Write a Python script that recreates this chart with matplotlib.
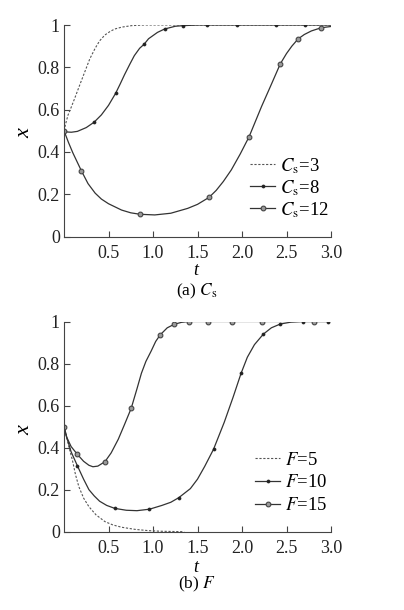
import matplotlib
matplotlib.use("Agg")
import matplotlib.pyplot as plt

# ---------------- data ----------------
# Panel (a): effect of C_s
cs3_t = [0, 0.02, 0.045, 0.08, 0.12, 0.18, 0.235, 0.29, 0.35, 0.40, 0.46, 0.52, 0.57, 0.65, 0.76, 0.9, 1.0, 3.0]
cs3_x = [0.5, 0.535, 0.574, 0.61, 0.653, 0.72, 0.78, 0.84, 0.89, 0.925, 0.953, 0.97, 0.981, 0.99, 0.997, 1.0, 1.0, 1.0]

cs8_t = [0, 0.04, 0.083, 0.15, 0.25, 0.337, 0.42, 0.5, 0.58, 0.63, 0.68, 0.74, 0.79, 0.85, 0.9, 0.95,
         1.05, 1.13, 1.25, 1.34, 1.5, 3.0]
cs8_x = [0.5, 0.494, 0.493, 0.497, 0.515, 0.540, 0.575, 0.62, 0.677, 0.72, 0.765, 0.815, 0.855, 0.89, 0.909,
         0.935, 0.965, 0.981, 0.994, 0.997, 1.0, 1.0]
cs8_mt = [0, 0.337, 0.58, 0.9, 1.13, 1.34, 1.61, 1.94, 2.38, 2.71]
cs8_mx = [0.5, 0.540, 0.677, 0.909, 0.981, 0.997, 1.0, 1.0, 1.0, 1.0]

cs12_t = [0, 0.05, 0.1, 0.196, 0.27, 0.35, 0.42, 0.5, 0.647, 0.75, 0.855, 1.02, 1.2, 1.39, 1.5, 1.63,
          1.71, 1.79, 1.88, 1.98, 2.08, 2.22, 2.32, 2.43, 2.5, 2.56, 2.63, 2.7, 2.78, 2.89, 3.0]
cs12_x = [0.5, 0.445, 0.395, 0.31, 0.25, 0.205, 0.177, 0.155, 0.125, 0.112, 0.105, 0.102, 0.11, 0.133, 0.152,
          0.185, 0.218, 0.26, 0.315, 0.39, 0.472, 0.615, 0.71, 0.816, 0.865, 0.9, 0.934, 0.955, 0.972, 0.987, 0.993]
cs12_mt = [0, 0.196, 0.855, 1.63, 2.08, 2.43, 2.63, 2.89]
cs12_mx = [0.5, 0.31, 0.105, 0.185, 0.472, 0.816, 0.934, 0.987]

# Panel (b): effect of F
f5_t = [0, 0.03, 0.06, 0.094, 0.13, 0.167, 0.22, 0.28, 0.36, 0.46, 0.55, 0.65, 0.8, 0.95, 1.1, 1.35]
f5_x = [0.5, 0.45, 0.395, 0.341, 0.27, 0.214, 0.16, 0.119, 0.08, 0.048, 0.032, 0.021, 0.011, 0.005, 0.002, 0.0]

f10_t = [0, 0.03, 0.08, 0.15, 0.22, 0.28, 0.34, 0.4, 0.48, 0.57, 0.7, 0.82, 0.96, 1.1, 1.2, 1.29, 1.42,
         1.5, 1.58, 1.68, 1.8, 1.9, 1.99, 2.06, 2.14, 2.24, 2.33, 2.43, 2.55, 2.68, 2.97]
f10_x = [0.5, 0.45, 0.38, 0.314, 0.25, 0.2, 0.17, 0.145, 0.125, 0.111, 0.102, 0.1, 0.107, 0.125, 0.14, 0.162, 0.205,
         0.25, 0.31, 0.392, 0.52, 0.64, 0.754, 0.83, 0.89, 0.94, 0.97, 0.988, 0.997, 1.0, 1.0]
f10_mt = [0, 0.15, 0.57, 0.96, 1.29, 1.68, 1.99, 2.24, 2.43, 2.68, 2.97]
f10_mx = [0.5, 0.314, 0.111, 0.107, 0.162, 0.392, 0.754, 0.94, 0.988, 1.0, 1.0]

f15_t = [0, 0.03, 0.08, 0.15, 0.22, 0.28, 0.325, 0.38, 0.46, 0.53, 0.61, 0.68, 0.755, 0.82, 0.87, 0.92,
         0.98, 1.03, 1.08, 1.16, 1.24, 1.32, 1.40, 3.0]
f15_x = [0.5, 0.45, 0.405, 0.368, 0.335, 0.316, 0.309, 0.312, 0.333, 0.375, 0.44, 0.51, 0.587, 0.68, 0.754, 0.81,
         0.86, 0.905, 0.936, 0.97, 0.987, 0.996, 1.0, 1.0]
f15_mt = [0, 0.15, 0.46, 0.755, 1.08, 1.24, 1.40, 1.62, 1.89, 2.23, 2.81]
f15_mx = [0.5, 0.368, 0.333, 0.587, 0.936, 0.987, 1.0, 1.0, 1.0, 1.0, 1.0]

xticks = [0.5, 1.0, 1.5, 2.0, 2.5, 3.0]
xticklabels = ["0.5", "1.0", "1.5", "2.0", "2.5", "3.0"]
yticks = [0, 0.2, 0.4, 0.6, 0.8, 1.0]
yticklabels = ["0", "0.2", "0.4", "0.6", "0.8", "1"]

labels_a = [r"$C_\mathrm{s}$=3", r"$C_\mathrm{s}$=8", r"$C_\mathrm{s}$=12"]
labels_b = [r"$F$=5", r"$F$=10", r"$F$=15"]

# ---------------- style ----------------
plt.rcParams["font.family"] = ["Liberation Serif", "DejaVu Serif"]
plt.rcParams["mathtext.fontset"] = "stix"
plt.rcParams["font.size"] = 12

W, H = 404, 610
fig = plt.figure(figsize=(W / 100, H / 100), dpi=100)

LC = "#333333"
small = dict(marker="o", markersize=2.2, markerfacecolor="#222222", markeredgecolor="#222222", markeredgewidth=0.5)
big = dict(marker="o", markersize=3.4, markerfacecolor="#9a9a9a", markeredgecolor="#444444", markeredgewidth=0.8)


def style_axes(ax):
    ax.set_xlim(0, 3.0)
    ax.set_ylim(0, 1.0)
    ax.spines["top"].set_visible(False)
    ax.spines["right"].set_visible(False)
    for s in ("left", "bottom"):
        ax.spines[s].set_linewidth(0.8)
        ax.spines[s].set_color("#444444")
    ax.set_xticks(xticks)
    ax.set_xticklabels(xticklabels)
    ax.set_yticks(yticks)
    ax.set_yticklabels(yticklabels)
    ax.tick_params(direction="in", length=4, width=0.8, color="#444444", labelcolor="#222222",
                   labelsize=13)
    ax.tick_params(axis="x", pad=6)
    ax.tick_params(axis="y", pad=3)


def draw_panel(ax, dash, s_line, s_mark, b_line, b_mark, labels, anchor, spacing):
    ax.plot(dash[0], dash[1], color="#555555", lw=0.8, ls=(0, (2, 1.5)), label=labels[0])
    ax.plot(s_line[0], s_line[1], color=LC, lw=0.9)
    ax.plot(s_mark[0], s_mark[1], ls="none", **small)
    ax.plot(b_line[0], b_line[1], color=LC, lw=0.9)
    ax.plot(b_mark[0], b_mark[1], ls="none", **big)
    ax.plot([], [], color=LC, lw=0.9, label=labels[1], **small)
    ax.plot([], [], color=LC, lw=0.9, label=labels[2], **big)
    style_axes(ax)
    ax.legend(loc="upper left", bbox_to_anchor=anchor, frameon=False, handlelength=1.35,
              handletextpad=0.25, labelspacing=spacing, fontsize=13.5, borderpad=0, borderaxespad=0)


# Panel (a)
ax1 = fig.add_axes([64 / W, 1 - 236.5 / H, 267 / W, 211.5 / H])
draw_panel(ax1, (cs3_t, cs3_x), (cs8_t, cs8_x), (cs8_mt, cs8_mx), (cs12_t, cs12_x), (cs12_mt, cs12_mx),
           labels_a, (0.697, 0.381), 0.12)

# Panel (b)
ax2 = fig.add_axes([64 / W, 1 - 531.7 / H, 267 / W, 210.2 / H])
draw_panel(ax2, (f5_t, f5_x), (f10_t, f10_x), (f10_mt, f10_mx), (f15_t, f15_x), (f15_mt, f15_mx),
           labels_b, (0.715, 0.381), 0.3)

# axis labels and captions
fig.text(196 / W, 1 - 270 / H, "t", ha="center", va="center", fontsize=13, style="italic")
fig.text(197 / W, 1 - 291 / H, r"(a) $C_\mathrm{s}$", ha="center", va="center", fontsize=12.5)
fig.text(25 / W, 1 - 133 / H, "x", ha="center", va="center", fontsize=16, style="italic", rotation=90)

fig.text(196 / W, 1 - 567 / H, "t", ha="center", va="center", fontsize=13, style="italic")
fig.text(197 / W, 1 - 584 / H, r"(b) $F$", ha="center", va="center", fontsize=12.5)
fig.text(25 / W, 1 - 430 / H, "x", ha="center", va="center", fontsize=16, style="italic", rotation=90)

fig.savefig("out.png", dpi=100)
